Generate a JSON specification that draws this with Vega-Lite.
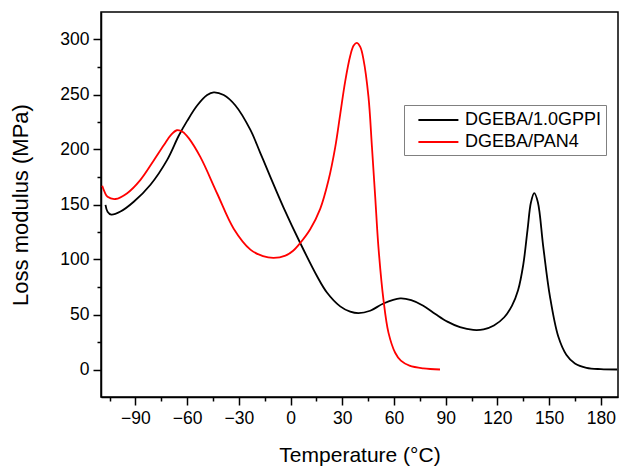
{
  "$schema": "https://vega.github.io/schema/vega-lite/v6.json",
  "autosize": "none",
  "width": 517,
  "height": 385,
  "padding": {"left": 101, "top": 12, "right": 1, "bottom": 71},
  "background": "white",
  "config": {
    "font": "Liberation Sans",
    "view": {"stroke": "#000", "strokeWidth": 1.5},
    "axis": {
      "labelFont": "Liberation Sans",
      "titleFont": "Liberation Sans",
      "labelFontSize": 17.5,
      "titleFontSize": 21,
      "labelColor": "#000",
      "titleColor": "#000",
      "titleFontWeight": "normal",
      "domainColor": "#000",
      "domainWidth": 1.5,
      "tickColor": "#000",
      "tickWidth": 1.5,
      "grid": false
    }
  },
  "data": {
    "values": [
      {"s": "DGEBA/1.0GPPI", "t": -107.4, "v": 149.7},
      {"s": "DGEBA/1.0GPPI", "t": -106.2, "v": 143.5},
      {"s": "DGEBA/1.0GPPI", "t": -104, "v": 140.8},
      {"s": "DGEBA/1.0GPPI", "t": -98.7, "v": 143.6},
      {"s": "DGEBA/1.0GPPI", "t": -91, "v": 152.5},
      {"s": "DGEBA/1.0GPPI", "t": -81.3, "v": 168},
      {"s": "DGEBA/1.0GPPI", "t": -71.6, "v": 190.6},
      {"s": "DGEBA/1.0GPPI", "t": -64.9, "v": 212.5},
      {"s": "DGEBA/1.0GPPI", "t": -60, "v": 226},
      {"s": "DGEBA/1.0GPPI", "t": -54.2, "v": 240},
      {"s": "DGEBA/1.0GPPI", "t": -48.4, "v": 249.5},
      {"s": "DGEBA/1.0GPPI", "t": -44.6, "v": 252},
      {"s": "DGEBA/1.0GPPI", "t": -38.8, "v": 249.5},
      {"s": "DGEBA/1.0GPPI", "t": -32, "v": 240},
      {"s": "DGEBA/1.0GPPI", "t": -23.3, "v": 217.8},
      {"s": "DGEBA/1.0GPPI", "t": -17.6, "v": 197},
      {"s": "DGEBA/1.0GPPI", "t": -11.8, "v": 175.4},
      {"s": "DGEBA/1.0GPPI", "t": -4, "v": 147},
      {"s": "DGEBA/1.0GPPI", "t": 5.6, "v": 115},
      {"s": "DGEBA/1.0GPPI", "t": 15.3, "v": 85},
      {"s": "DGEBA/1.0GPPI", "t": 21.1, "v": 70},
      {"s": "DGEBA/1.0GPPI", "t": 28.8, "v": 57.4},
      {"s": "DGEBA/1.0GPPI", "t": 34.6, "v": 52.6},
      {"s": "DGEBA/1.0GPPI", "t": 39.4, "v": 51.2},
      {"s": "DGEBA/1.0GPPI", "t": 46.2, "v": 53.4},
      {"s": "DGEBA/1.0GPPI", "t": 53.9, "v": 60},
      {"s": "DGEBA/1.0GPPI", "t": 63.6, "v": 64.6},
      {"s": "DGEBA/1.0GPPI", "t": 70, "v": 63},
      {"s": "DGEBA/1.0GPPI", "t": 77, "v": 58},
      {"s": "DGEBA/1.0GPPI", "t": 84, "v": 50.5},
      {"s": "DGEBA/1.0GPPI", "t": 91, "v": 43.5},
      {"s": "DGEBA/1.0GPPI", "t": 98.3, "v": 38.5},
      {"s": "DGEBA/1.0GPPI", "t": 106, "v": 36},
      {"s": "DGEBA/1.0GPPI", "t": 112, "v": 36.5},
      {"s": "DGEBA/1.0GPPI", "t": 118, "v": 40},
      {"s": "DGEBA/1.0GPPI", "t": 124, "v": 47.5},
      {"s": "DGEBA/1.0GPPI", "t": 128.5, "v": 58},
      {"s": "DGEBA/1.0GPPI", "t": 132, "v": 72},
      {"s": "DGEBA/1.0GPPI", "t": 135, "v": 95},
      {"s": "DGEBA/1.0GPPI", "t": 137.5, "v": 127},
      {"s": "DGEBA/1.0GPPI", "t": 139.5, "v": 152},
      {"s": "DGEBA/1.0GPPI", "t": 141.4, "v": 160.3},
      {"s": "DGEBA/1.0GPPI", "t": 143.5, "v": 152},
      {"s": "DGEBA/1.0GPPI", "t": 146.6, "v": 112},
      {"s": "DGEBA/1.0GPPI", "t": 150.5, "v": 66.5},
      {"s": "DGEBA/1.0GPPI", "t": 155.3, "v": 30.2},
      {"s": "DGEBA/1.0GPPI", "t": 160, "v": 13.5},
      {"s": "DGEBA/1.0GPPI", "t": 165, "v": 5.5},
      {"s": "DGEBA/1.0GPPI", "t": 171.7, "v": 1.5},
      {"s": "DGEBA/1.0GPPI", "t": 180, "v": 0.3},
      {"s": "DGEBA/1.0GPPI", "t": 189.5, "v": 0},
      {"s": "DGEBA/PAN4", "t": -109.3, "v": 167},
      {"s": "DGEBA/PAN4", "t": -107.8, "v": 161},
      {"s": "DGEBA/PAN4", "t": -106.2, "v": 157},
      {"s": "DGEBA/PAN4", "t": -101.6, "v": 155},
      {"s": "DGEBA/PAN4", "t": -94.8, "v": 160.3},
      {"s": "DGEBA/PAN4", "t": -87.1, "v": 172.4},
      {"s": "DGEBA/PAN4", "t": -79.4, "v": 190},
      {"s": "DGEBA/PAN4", "t": -73.5, "v": 204},
      {"s": "DGEBA/PAN4", "t": -69.5, "v": 213},
      {"s": "DGEBA/PAN4", "t": -66, "v": 217.5},
      {"s": "DGEBA/PAN4", "t": -62.5, "v": 216},
      {"s": "DGEBA/PAN4", "t": -59.1, "v": 210.3},
      {"s": "DGEBA/PAN4", "t": -52.3, "v": 193},
      {"s": "DGEBA/PAN4", "t": -42.6, "v": 160},
      {"s": "DGEBA/PAN4", "t": -33, "v": 128},
      {"s": "DGEBA/PAN4", "t": -23.3, "v": 109},
      {"s": "DGEBA/PAN4", "t": -16, "v": 103},
      {"s": "DGEBA/PAN4", "t": -9.8, "v": 101.4},
      {"s": "DGEBA/PAN4", "t": -3, "v": 103.5},
      {"s": "DGEBA/PAN4", "t": 1.5, "v": 108},
      {"s": "DGEBA/PAN4", "t": 5.6, "v": 115},
      {"s": "DGEBA/PAN4", "t": 11.4, "v": 127.5},
      {"s": "DGEBA/PAN4", "t": 17.2, "v": 146},
      {"s": "DGEBA/PAN4", "t": 22, "v": 172},
      {"s": "DGEBA/PAN4", "t": 25.9, "v": 202},
      {"s": "DGEBA/PAN4", "t": 28.8, "v": 232},
      {"s": "DGEBA/PAN4", "t": 31.7, "v": 262},
      {"s": "DGEBA/PAN4", "t": 34.6, "v": 285},
      {"s": "DGEBA/PAN4", "t": 36.6, "v": 294.5},
      {"s": "DGEBA/PAN4", "t": 38.5, "v": 297},
      {"s": "DGEBA/PAN4", "t": 40.5, "v": 293},
      {"s": "DGEBA/PAN4", "t": 42.3, "v": 282},
      {"s": "DGEBA/PAN4", "t": 45.2, "v": 248},
      {"s": "DGEBA/PAN4", "t": 47.2, "v": 203},
      {"s": "DGEBA/PAN4", "t": 49.1, "v": 157.3},
      {"s": "DGEBA/PAN4", "t": 51, "v": 111},
      {"s": "DGEBA/PAN4", "t": 53.9, "v": 63.5},
      {"s": "DGEBA/PAN4", "t": 56.8, "v": 33.5},
      {"s": "DGEBA/PAN4", "t": 60.7, "v": 15.2},
      {"s": "DGEBA/PAN4", "t": 64, "v": 8},
      {"s": "DGEBA/PAN4", "t": 69, "v": 3.5},
      {"s": "DGEBA/PAN4", "t": 77.1, "v": 1},
      {"s": "DGEBA/PAN4", "t": 86.7, "v": 0}
    ]
  },
  "resolve": {"axis": {"x": "independent", "y": "independent"}},
  "layer": [
    {
      "mark": {"type": "point", "opacity": 0},
      "encoding": {
        "x": {
          "field": "t", "type": "quantitative",
          "scale": {"domain": [-110, 190], "nice": false, "zero": false},
          "axis": {"orient": "bottom", "values": [-105, -75, -45, -15, 15, 45, 75, 105, 135, 165], "labels": false, "tickSize": 4, "domain": false, "title": null}
        },
        "y": {
          "field": "v", "type": "quantitative",
          "scale": {"domain": [-25, 325], "nice": false, "zero": false},
          "axis": {"orient": "left", "values": [25, 75, 125, 175, 225, 275], "labels": false, "tickSize": 4, "domain": false, "title": null}
        }
      }
    },
    {
      "mark": {"type": "line", "interpolate": "catmull-rom", "strokeWidth": 1.8},
      "encoding": {
        "x": {
          "field": "t", "type": "quantitative",
          "scale": {"domain": [-110, 190], "nice": false, "zero": false},
          "axis": {"orient": "bottom", "values": [-90, -60, -30, 0, 30, 60, 90, 120, 150, 180], "tickSize": 8, "labelPadding": 4, "title": "Temperature (°C)", "titlePadding": 18}
        },
        "y": {
          "field": "v", "type": "quantitative",
          "scale": {"domain": [-25, 325], "nice": false, "zero": false},
          "axis": {"orient": "left", "values": [0, 50, 100, 150, 200, 250, 300], "tickSize": 8, "labelPadding": 4, "title": "Loss modulus (MPa)", "titleFontSize": 22, "titlePadding": 27}
        },
        "color": {
          "field": "s", "type": "nominal",
          "scale": {"domain": ["DGEBA/1.0GPPI", "DGEBA/PAN4"], "range": ["#000000", "#ff0000"]},
          "legend": {
            "title": null,
            "orient": "none",
            "legendX": 303,
            "legendY": 93,
            "symbolType": "M-2,0H2",
            "symbolSize": 400,
            "symbolStrokeWidth": 1.8,
            "symbolOffset": 19.4,
            "labelFontSize": 18,
            "labelFont": "Liberation Sans",
            "labelColor": "#000",
            "labelOffset": 15.6,
            "rowPadding": 2,
            "padding": 4,
            "strokeColor": "#808080",
            "fillColor": "white"
          }
        }
      }
    }
  ]
}
